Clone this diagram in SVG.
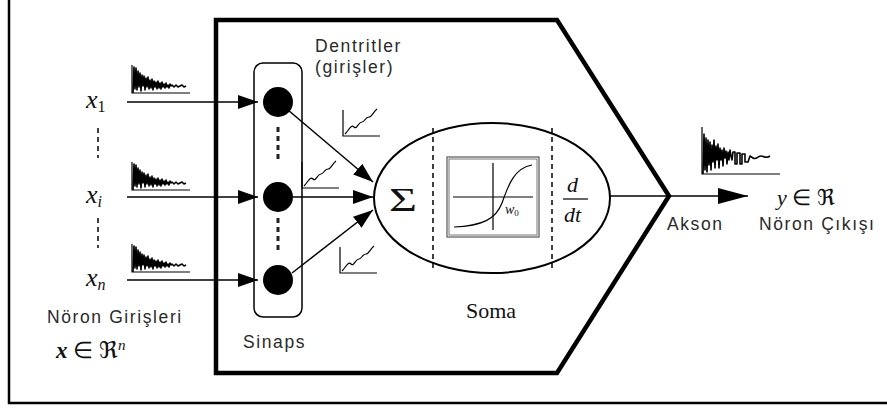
<svg xmlns="http://www.w3.org/2000/svg" xmlns:xlink="http://www.w3.org/1999/xlink" width="887" height="408" viewBox="0 0 887 408">
  <style>
    .frame { fill: none; stroke: #000; stroke-width: 2.5; }
    .body { fill: none; stroke: #000; stroke-width: 4.5; stroke-linejoin: miter; }
    .wire { fill: none; stroke: #000; stroke-width: 1.5; }
    .thin { fill: none; stroke: #000; stroke-width: 1.2; }
    .dash { fill: none; stroke: #000; stroke-width: 1.5; stroke-dasharray: 5 4; }
    .vdash { fill: none; stroke: #222; stroke-width: 3; stroke-dasharray: 5 4; }
    .sans { font-family: "Liberation Sans", Arial, sans-serif; font-size: 17.5px; letter-spacing: 1.6px; fill: #2a2a2a; }
    .math { font-family: "Liberation Serif", "Times New Roman", serif; font-style: italic; fill: #111; }
    .serif { font-family: "Liberation Serif", "Times New Roman", serif; fill: #111; }
    .wave { fill: none; stroke: #000; stroke-width: 1.6; stroke-linejoin: round; }
  </style>
  <defs>
    <marker id="head" markerUnits="userSpaceOnUse" markerWidth="20" markerHeight="14" refX="20" refY="7" orient="auto">
      <path d="M0,0 L20,7 L0,14 Z" fill="#000"/>
    </marker>
    <marker id="headBig" markerUnits="userSpaceOnUse" markerWidth="30" markerHeight="16" refX="30" refY="8" orient="auto">
      <path d="M0,0 L30,8 L0,16 Z" fill="#000"/>
    </marker>
    <!-- decaying spike train, origin at the axis foot -->
    <g id="spikes">
      <path class="thin" d="M0,-28 V0 H58"/>
      <path class="wave" d="M1,0 L2,-26 L3,-4 L4,-25 L5,-3 L6,-22 L7,-6 L8,-20 L9,-2 L10,-18 L11,-7 L12,-17 L13,-3 L14,-15 L15,-6 L16,-16 L17,-4 L18,-13 L19,-5 L20,-14 L21,-3 L22,-12 L23,-6 L24,-11 L25,-4 L26,-12 L27,-5 L28,-10 L29,-4 L30,-11 L31,-6 L32,-9 L33,-5 L34,-10 L35,-6 L36,-8 L37,-5 L38,-9 L39,-7 L40,-8 L42,-6 L44,-8 L46,-6 L48,-7 L50,-8 L52,-6 L54,-7"/>
    </g>
    <!-- small rising trace with its axes -->
    <g id="trace">
      <path class="thin" d="M0,-26 V0 H37"/>
      <path class="thin" d="M2,-2 C6,-6 8,-12 11,-9 C14,-6 15,-14 19,-14 C22,-14 22,-19 26,-19 C29,-19 30,-24 34,-27"/>
    </g>
  </defs>

  <!-- page frame -->
  <path class="frame" d="M9,0 V403 H887"/>

  <!-- neuron body outline -->
  <g id="body">
    <path class="body" d="M216,20 H557 L669,196 L557,373 H216 Z"/>
  </g>

  <!-- input signals and labels -->
  <g id="inputs">
    <use xlink:href="#spikes" x="132" y="93"/>
    <use xlink:href="#spikes" x="132" y="190"/>
    <use xlink:href="#spikes" x="132" y="272"/>
    <text class="math" x="86" y="108" font-size="26">x<tspan font-size="16" font-style="normal" dy="4">1</tspan></text>
    <text class="math" x="86" y="203" font-size="26">x<tspan font-size="16" dy="4">i</tspan></text>
    <text class="math" x="86" y="286" font-size="26">x<tspan font-size="16" dy="4">n</tspan></text>
    <path class="dash" d="M98,128 V158"/>
    <path class="dash" d="M98,218 V248"/>
    <text class="sans" x="47" y="323" letter-spacing="1.9">Nöron Girişleri</text>
    <text class="serif" x="56" y="358" font-size="23"><tspan font-style="italic" font-weight="bold">x</tspan> ∈ ℜ<tspan font-style="italic" font-size="15" dy="-8">n</tspan></text>
  </g>

  <!-- synapses -->
  <g id="synapses">
    <rect class="wire" x="254" y="63" width="48" height="254" rx="9"/>
    <circle cx="278" cy="102" r="15" fill="#000"/>
    <circle cx="278" cy="197" r="15" fill="#000"/>
    <circle cx="278" cy="280" r="15" fill="#000"/>
    <path class="vdash" d="M278,127 V160"/>
    <path class="vdash" d="M278,218 V252"/>
    <text class="sans" x="243" y="348">Sinaps</text>
  </g>

  <g id="dendrites-label">
    <text class="sans" x="315" y="52">Dentritler</text>
    <text class="sans" x="315" y="73">(girişler)</text>
  </g>

  <!-- soma -->
  <g id="soma">
    <ellipse cx="492" cy="198" rx="118" ry="75" fill="none" stroke="#000" stroke-width="2"/>
    <path class="dash" d="M433,128 V268" stroke-width="1.3"/>
    <path class="dash" d="M552,128 V268" stroke-width="1.3"/>
    <text class="serif" x="389" y="211" font-size="34" textLength="28" lengthAdjust="spacingAndGlyphs">Σ</text>
    <rect x="447" y="157" width="92" height="80" fill="none" stroke="#555" stroke-width="1.2"/>
    <rect x="449" y="159" width="88" height="76" fill="none" stroke="#777" stroke-width="1"/>
    <path class="thin" d="M453,197 H533 M493,163 V230" stroke="#333"/>
    <path class="thin" d="M454,227 C482,226 496,219 502,203 C508,186 514,168 532,165"/>
    <text class="math" x="505" y="214" font-size="14">w<tspan font-style="normal" font-size="9" dy="2">0</tspan></text>
    <text class="math" x="567" y="192" font-size="22">d</text>
    <path class="thin" d="M563,199 H588"/>
    <text class="math" x="564" y="222" font-size="22">dt</text>
    <text class="serif" x="466" y="318" font-size="22">Soma</text>
  </g>

  <!-- output -->
  <g id="output">
    <path class="thin" d="M702,127 V174 H780"/>
    <path class="wave" d="M703,174 L704,134 L705,170 L706,138 L707,172 L708,140 L709,165 L710,142 L711,170 L712,145 L713,162 L714,140 L715,168 L716,146 L717,160 L718,144 L719,168 L720,148 L721,160 L722,150 L723,166 L724,148 L725,158 L726,151 L727,164 L728,152 L729,160 L730,150 L731,156 L732,160 L733,152 L735,152 L735,164 L737,164 L737,153 L740,153 L740,164 L742,164 L742,154 L745,154 L745,162 L748,162 L750,156 L753,158 C756,160 758,156 761,156 C764,156 766,159 770,156"/>
    <text class="math" x="777" y="205" font-size="22">y <tspan font-style="normal">∈ ℜ</tspan></text>
    <text class="sans" x="667" y="230">Akson</text>
    <text class="sans" x="759" y="230" letter-spacing="1.9">Nöron Çıkışı</text>
  </g>

  <!-- connectors -->
  <g id="connectors">
    <path class="wire" d="M127,102 H258" marker-end="url(#head)"/>
    <path class="wire" d="M127,197 H258" marker-end="url(#head)"/>
    <path class="wire" d="M127,280 H258" marker-end="url(#head)"/>
    <path class="wire" d="M288,110 L373,182" marker-end="url(#head)"/>
    <path class="wire" d="M293,197 H373" marker-end="url(#head)"/>
    <path class="wire" d="M292,273 L373,210" marker-end="url(#head)"/>
    <path class="wire" d="M610,196 H748" marker-end="url(#headBig)"/>
    <use xlink:href="#trace" x="343" y="136"/>
    <use xlink:href="#trace" x="302" y="188"/>
    <use xlink:href="#trace" x="340" y="273"/>
  </g>
</svg>
